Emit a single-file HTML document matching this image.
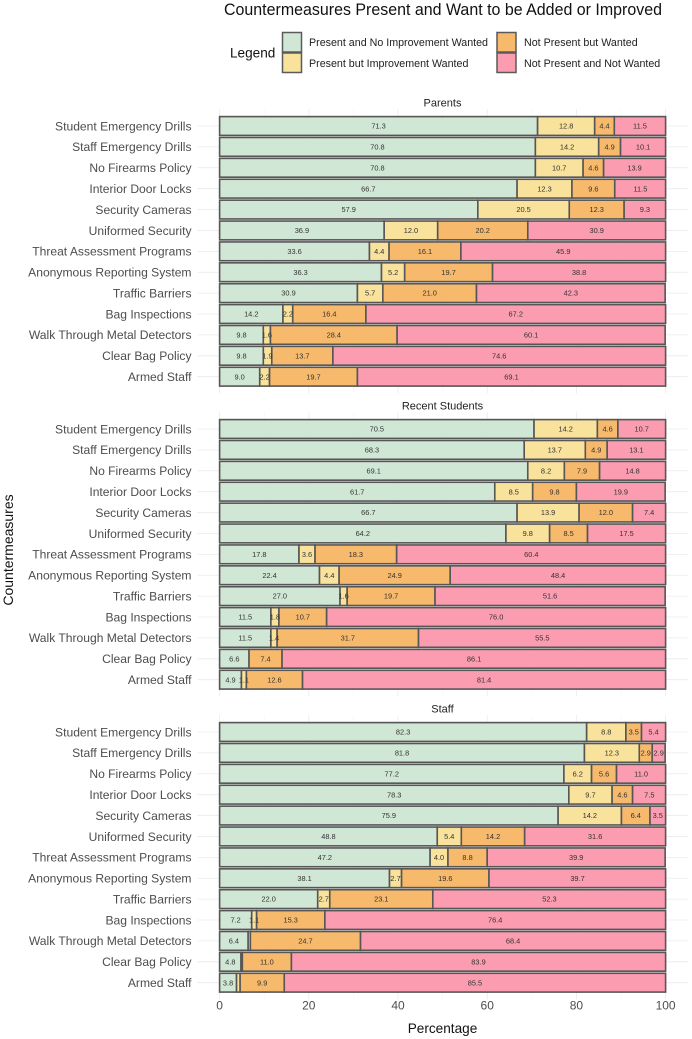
<!DOCTYPE html>
<html lang="en">
<head>
<meta charset="utf-8">
<title>Countermeasures Present and Want to be Added or Improved</title>
<style>
html,body{margin:0;padding:0;background:#fff;}
svg{display:block;filter:blur(0.35px);}
text{font-family:"Liberation Sans",sans-serif;}
</style>
</head>
<body>
<svg id="chart" xmlns="http://www.w3.org/2000/svg" width="692" height="1039" viewBox="0 0 692 1039">
  <text x="224" y="15" font-size="17" textLength="438" lengthAdjust="spacingAndGlyphs" fill="#111">Countermeasures Present and Want to be Added or Improved</text>
  <g>
    <text x="230" y="57.5" font-size="13.6" fill="#111">Legend</text>
    <rect x="282.5" y="32.5" width="19" height="19.5" fill="#d1e7d5" stroke="#5a5a5a" stroke-width="1.5"/>
    <rect x="282.5" y="53" width="19" height="19.5" fill="#f9e29c" stroke="#5a5a5a" stroke-width="1.5"/>
    <rect x="497" y="32.5" width="19" height="19.5" fill="#f7b96b" stroke="#5a5a5a" stroke-width="1.5"/>
    <rect x="497" y="53" width="19" height="19.5" fill="#fb9cb0" stroke="#5a5a5a" stroke-width="1.5"/>
    <text x="309" y="46" font-size="10.7" fill="#222">Present and No Improvement Wanted</text>
    <text x="309" y="67" font-size="10.7" fill="#222">Present but Improvement Wanted</text>
    <text x="524" y="46" font-size="10.7" fill="#222">Not Present but Wanted</text>
    <text x="524" y="67" font-size="10.7" fill="#222">Not Present and Not Wanted</text>
  </g>
  <text transform="translate(13,550) rotate(-90)" font-size="14" text-anchor="middle" fill="#111">Countermeasures</text>
  <text x="442.5" y="1033" font-size="13.6" text-anchor="middle" fill="#111">Percentage</text>
</svg>
<script>
const categories = ["Student Emergency Drills","Staff Emergency Drills","No Firearms Policy","Interior Door Locks","Security Cameras","Uniformed Security","Threat Assessment Programs","Anonymous Reporting System","Traffic Barriers","Bag Inspections","Walk Through Metal Detectors","Clear Bag Policy","Armed Staff"];
const panelTitles = ["Parents","Recent Students","Staff"];
const xTicks = [0,20,40,60,80,100];

const parentsPresentNoImprovement = [71.3,70.8,70.8,66.7,57.9,36.9,33.6,36.3,30.9,14.2,9.8,9.8,9.0];
const parentsPresentImprovement = [12.8,14.2,10.7,12.3,20.5,12.0,4.4,5.2,5.7,2.2,1.6,1.9,2.2];
const parentsNotPresentWanted = [4.4,4.9,4.6,9.6,12.3,20.2,16.1,19.7,21.0,16.4,28.4,13.7,19.7];
const parentsNotPresentNotWanted = [11.5,10.1,13.9,11.5,9.3,30.9,45.9,38.8,42.3,67.2,60.1,74.6,69.1];

const studentsPresentNoImprovement = [70.5,68.3,69.1,61.7,66.7,64.2,17.8,22.4,27.0,11.5,11.5,6.6,4.9];
const studentsPresentImprovement = [14.2,13.7,8.2,8.5,13.9,9.8,3.6,4.4,1.6,1.8,1.4,0,1.1];
const studentsNotPresentWanted = [4.6,4.9,7.9,9.8,12.0,8.5,18.3,24.9,19.7,10.7,31.7,7.4,12.6];
const studentsNotPresentNotWanted = [10.7,13.1,14.8,19.9,7.4,17.5,60.4,48.4,51.6,76.0,55.5,86.1,81.4];

const staffPresentNoImprovement = [82.3,81.8,77.2,78.3,75.9,48.8,47.2,38.1,22.0,7.2,6.4,4.8,3.8];
const staffPresentImprovement = [8.8,12.3,6.2,9.7,14.2,5.4,4.0,2.7,2.7,1.1,0.5,0.3,0.8];
const staffNotPresentWanted = [3.5,2.9,5.6,4.6,6.4,14.2,8.8,19.6,23.1,15.3,24.7,11.0,9.9];
const staffNotPresentNotWanted = [5.4,2.9,11.0,7.5,3.5,31.6,39.9,39.7,52.3,76.4,68.4,83.9,85.5];

const svgNS = "http://www.w3.org/2000/svg";
const svg = document.getElementById("chart");
const seriesFills = ["#d1e7d5","#f9e29c","#f7b96b","#fb9cb0"];
const seriesKeys = ["present-no-improvement","present-improvement","not-present-wanted","not-present-not-wanted"];
const panelSeries = [
  [parentsPresentNoImprovement,parentsPresentImprovement,parentsNotPresentWanted,parentsNotPresentNotWanted],
  [studentsPresentNoImprovement,studentsPresentImprovement,studentsNotPresentWanted,studentsNotPresentNotWanted],
  [staffPresentNoImprovement,staffPresentImprovement,staffNotPresentWanted,staffNotPresentNotWanted]
];
const panelFirstCenters = [126, 429, 732];
const rowStep = 20.89;
const barHeight = 18.8;
const xLeft = 197.3, xRight = 687.8;

function xScale(v){ return 219.6 + v * 4.46; }
function yScale(panel, row){ return panelFirstCenters[panel] + row * rowStep; }

function make(tag, attrs, parent){
  const el = document.createElementNS(svgNS, tag);
  for (const k in attrs) el.setAttribute(k, attrs[k]);
  parent.appendChild(el);
  return el;
}

panelTitles.forEach(function(title, p){
  const g = make("g", {}, svg);
  
  

  const t = make("text", {x:442.5, y:panelFirstCenters[p]-19.5, "font-size":11, "text-anchor":"middle", fill:"#222"}, g);
  
  
  t.textContent = title;

  const top = yScale(p,0)-barHeight/2-7.5, bottom = yScale(p,12)+barHeight/2+7.5;
  for (let v = 0; v <= 100; v += 10) {
    const major = v % 20 === 0;
    const grid = make("line", {x1:xScale(v), x2:xScale(v), y1:top, y2:bottom, stroke:major?"#ebebeb":"#f3f3f3", "stroke-width":major?0.8:0.5}, g);
    
    
  }

  categories.forEach(function(cat, r){
    const cy = yScale(p, r);
    const grid = make("line", {x1:xLeft, x2:xRight, y1:cy, y2:cy, stroke:"#ebebeb", "stroke-width":0.8}, g);
    
    

    const lab = make("text", {x:191.5, y:cy+4.3, "font-size":12.1, "text-anchor":"end", fill:"#4d4d4d"}, g);
    
    
    lab.textContent = cat;

    let cum = 0;
    panelSeries[p].forEach(function(series, s){
      const v = series[r];
      if (v > 0) {
        const x0 = xScale(cum);
        const x1 = Math.min(xScale(cum + v), xScale(100));
        const bar = make("rect", {x:x0, y:cy-barHeight/2, width:Math.max(x1-x0,0), height:barHeight, fill:seriesFills[s], stroke:"#565656", "stroke-width":1.6}, g);
        
        
      }
      cum += v;
    });

    cum = 0;
    panelSeries[p].forEach(function(series, s){
      const v = series[r];
      if (v >= 1) {
        const val = make("text", {x:xScale(cum + v/2), y:cy+2.6, "font-size":7.4, "text-anchor":"middle", fill:"#333"}, g);
        
        
        val.textContent = v.toFixed(1);
      }
      cum += v;
    });
  });
});

xTicks.forEach(function(v){
  const t = make("text", {x:xScale(v), y:1009.5, "font-size":12, "text-anchor":"middle", fill:"#4d4d4d"}, svg);
  
  
  t.textContent = String(v);
});
</script>
</body>
</html>
